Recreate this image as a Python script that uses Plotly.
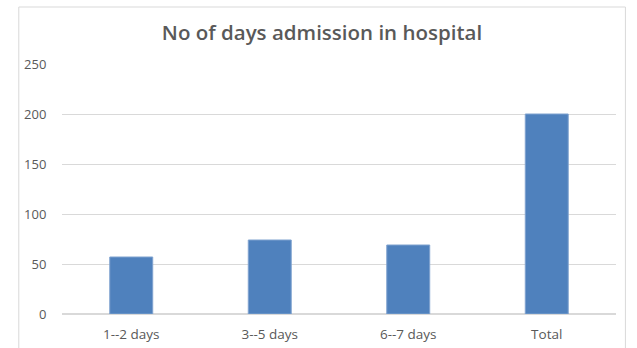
import plotly.graph_objects as go

# Hospital admission length, number of patients per group
categories = ["1--2 days", "3--5 days", "6--7 days", "Total"]
patients = [57, 74, 69, 200]
y_ticks = [0, 50, 100, 150, 200, 250]

fig = go.Figure(
    go.Bar(
        x=categories,
        y=patients,
        marker=dict(color="#4F81BD", line=dict(color="#7FA2CF", width=1)),
        hoverinfo="x+y",
    )
)

fig.update_layout(
    width=637,
    height=348,
    margin=dict(l=62, r=21, t=64, b=34, autoexpand=False),
    paper_bgcolor="white",
    plot_bgcolor="white",
    bargap=0.69,
    showlegend=False,
    title=dict(
        text="No of days admission in hospital",
        x=0.5055,
        xanchor="center",
        xref="container",
        y=0.905,
        yanchor="middle",
        yref="container",
        font=dict(family="Open Sans", size=20.5, color="#595959", weight=600),
    ),
    font=dict(family="Open Sans", size=13, color="#595959"),
    shapes=[
        dict(
            type="rect",
            xref="paper",
            yref="paper",
            x0=-0.078,
            x1=1.017,
            y0=-0.2,
            y1=1.228,
            line=dict(color="#D9D9D9", width=1),
            layer="below",
        )
    ],
)

fig.update_xaxes(
    showgrid=False,
    showline=False,
    ticks="outside",
    ticklen=8,
    tickcolor="rgba(0,0,0,0)",
    tickfont=dict(size=13.5, color="#595959"),
)

fig.update_yaxes(
    range=[0, 250],
    tickvals=y_ticks,
    showgrid=True,
    gridcolor="#D9D9D9",
    gridwidth=1,
    zeroline=True,
    zerolinecolor="#D9D9D9",
    showline=False,
    ticks="outside",
    ticklen=12,
    tickcolor="rgba(0,0,0,0)",
    tickfont=dict(size=13, color="#595959"),
)

fig.write_html("out.html")
